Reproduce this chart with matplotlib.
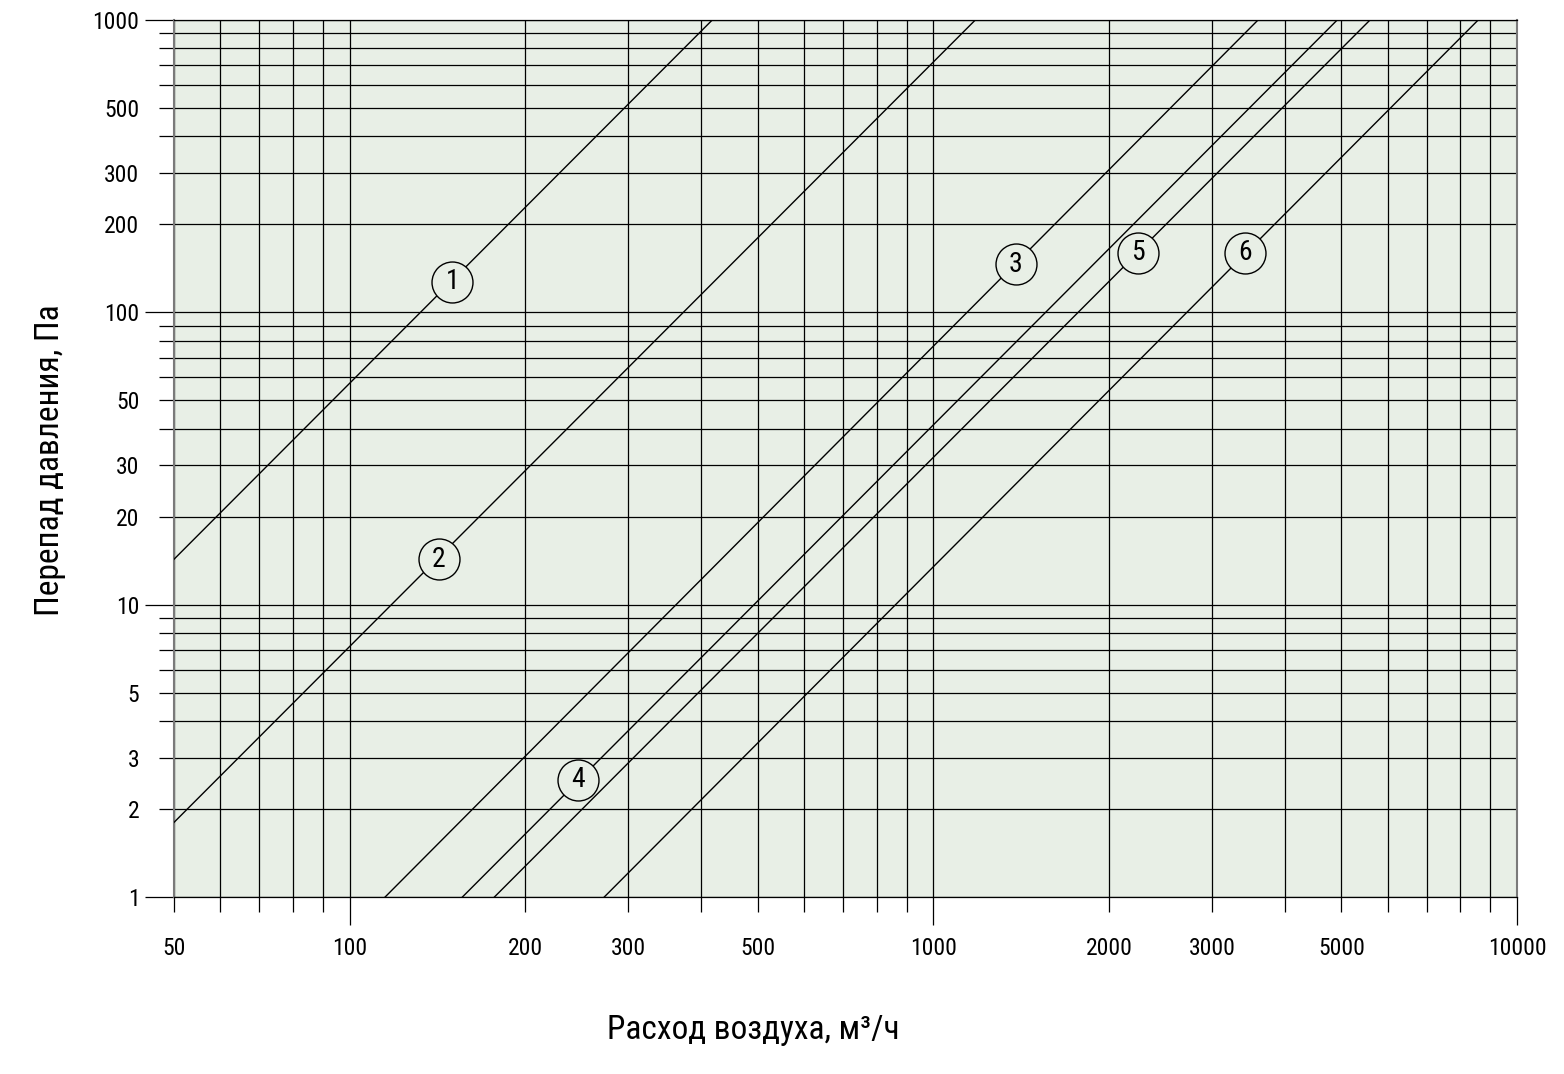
import matplotlib
matplotlib.use("Agg")
import matplotlib.pyplot as plt
from matplotlib.ticker import FixedLocator, FuncFormatter

plt.rcParams['font.family'] = ['Roboto Condensed', 'Liberation Sans Narrow', 'DejaVu Sans']
plt.rcParams['font.stretch'] = 'condensed'

# curves: straight lines on log-log paper, read at their ends
curve_names = ["1", "2", "3", "4", "5", "6"]
q_start = [50, 50, 115, 156, 177, 273]
dp_start = [14.3, 1.8, 1, 1, 1, 1]
q_end = [418, 1180, 3600, 4920, 5600, 8580]
dp_end = [1000, 1000, 1000, 1000, 1000, 1000]

# where the circled numbers sit
label_q = [150, 142, 1383, 246, 2245, 3425]
label_dp = [127, 14.3, 146, 2.52, 160, 160]

x_major = [100, 1000, 10000]
x_minor = [50, 60, 70, 80, 90, 200, 300, 400, 500, 600, 700, 800, 900,
           2000, 3000, 4000, 5000, 6000, 7000, 8000, 9000]
x_labels = [50, 100, 200, 300, 500, 1000, 2000, 3000, 5000, 10000]
y_major = [1, 10, 100, 1000]
y_minor = [2, 3, 4, 5, 6, 7, 8, 9, 20, 30, 40, 50, 60, 70, 80, 90,
           200, 300, 400, 500, 600, 700, 800, 900]
y_labels = [1, 2, 3, 5, 10, 20, 30, 50, 100, 200, 300, 500, 1000]

bg = '#e8efe6'

fig = plt.figure(figsize=(15.64, 10.74), dpi=100)
ax = fig.add_axes([174 / 1564, 1 - 897 / 1074, (1517 - 174) / 1564, (897 - 20) / 1074])
ax.set_facecolor(bg)
ax.set_xscale('log')
ax.set_yscale('log')
ax.set_xlim(50, 10000)
ax.set_ylim(1, 1000)

ax.xaxis.set_major_locator(FixedLocator(x_major))
ax.xaxis.set_minor_locator(FixedLocator(x_minor))
ax.yaxis.set_major_locator(FixedLocator(y_major))
ax.yaxis.set_minor_locator(FixedLocator(y_minor))


def fmt_x(v, pos):
    return str(int(round(v))) if int(round(v)) in x_labels else ""


def fmt_y(v, pos):
    return str(int(round(v))) if int(round(v)) in y_labels else ""


ax.xaxis.set_major_formatter(FuncFormatter(fmt_x))
ax.xaxis.set_minor_formatter(FuncFormatter(fmt_x))
ax.yaxis.set_major_formatter(FuncFormatter(fmt_y))
ax.yaxis.set_minor_formatter(FuncFormatter(fmt_y))

ax.tick_params(axis='both', which='both', direction='out', color='black',
               width=0.9, labelsize=17)
ax.tick_params(axis='y', which='major', length=21, pad=4)
ax.tick_params(axis='y', which='minor', length=11, pad=14)
ax.tick_params(axis='x', which='major', length=20, pad=9)
ax.tick_params(axis='x', which='minor', length=11, pad=18)

ax.grid(True, which='both', color='black', linewidth=0.9)
ax.set_axisbelow(True)

for side in ['left', 'right']:
    ax.spines[side].set_color('#7a7a7a')
    ax.spines[side].set_linewidth(1.5)
for side in ['top', 'bottom']:
    ax.spines[side].set_color('black')
    ax.spines[side].set_linewidth(0.9)

for i in range(len(curve_names)):
    ax.plot([q_start[i], q_end[i]], [dp_start[i], dp_end[i]],
            color='black', linewidth=1.0, zorder=3)

# circled curve numbers, filled so the line breaks inside
ax.scatter(label_q, label_dp, s=870, facecolor=bg, edgecolor='black',
           linewidth=1.0, zorder=4)
for q, dp, name in zip(label_q, label_dp, curve_names):
    ax.text(q, dp, name, ha='center', va='center', fontsize=20, zorder=5)

fig.text(753 / 1564, 1 - 1030 / 1074, "Расход воздуха, м³/ч",
         ha='center', va='center', fontsize=24)
fig.text(50 / 1564, 1 - 460 / 1074, "Перепад давления, Па",
         ha='center', va='center', rotation=90, fontsize=24)

fig.savefig("out.png", dpi=100, facecolor='white')
